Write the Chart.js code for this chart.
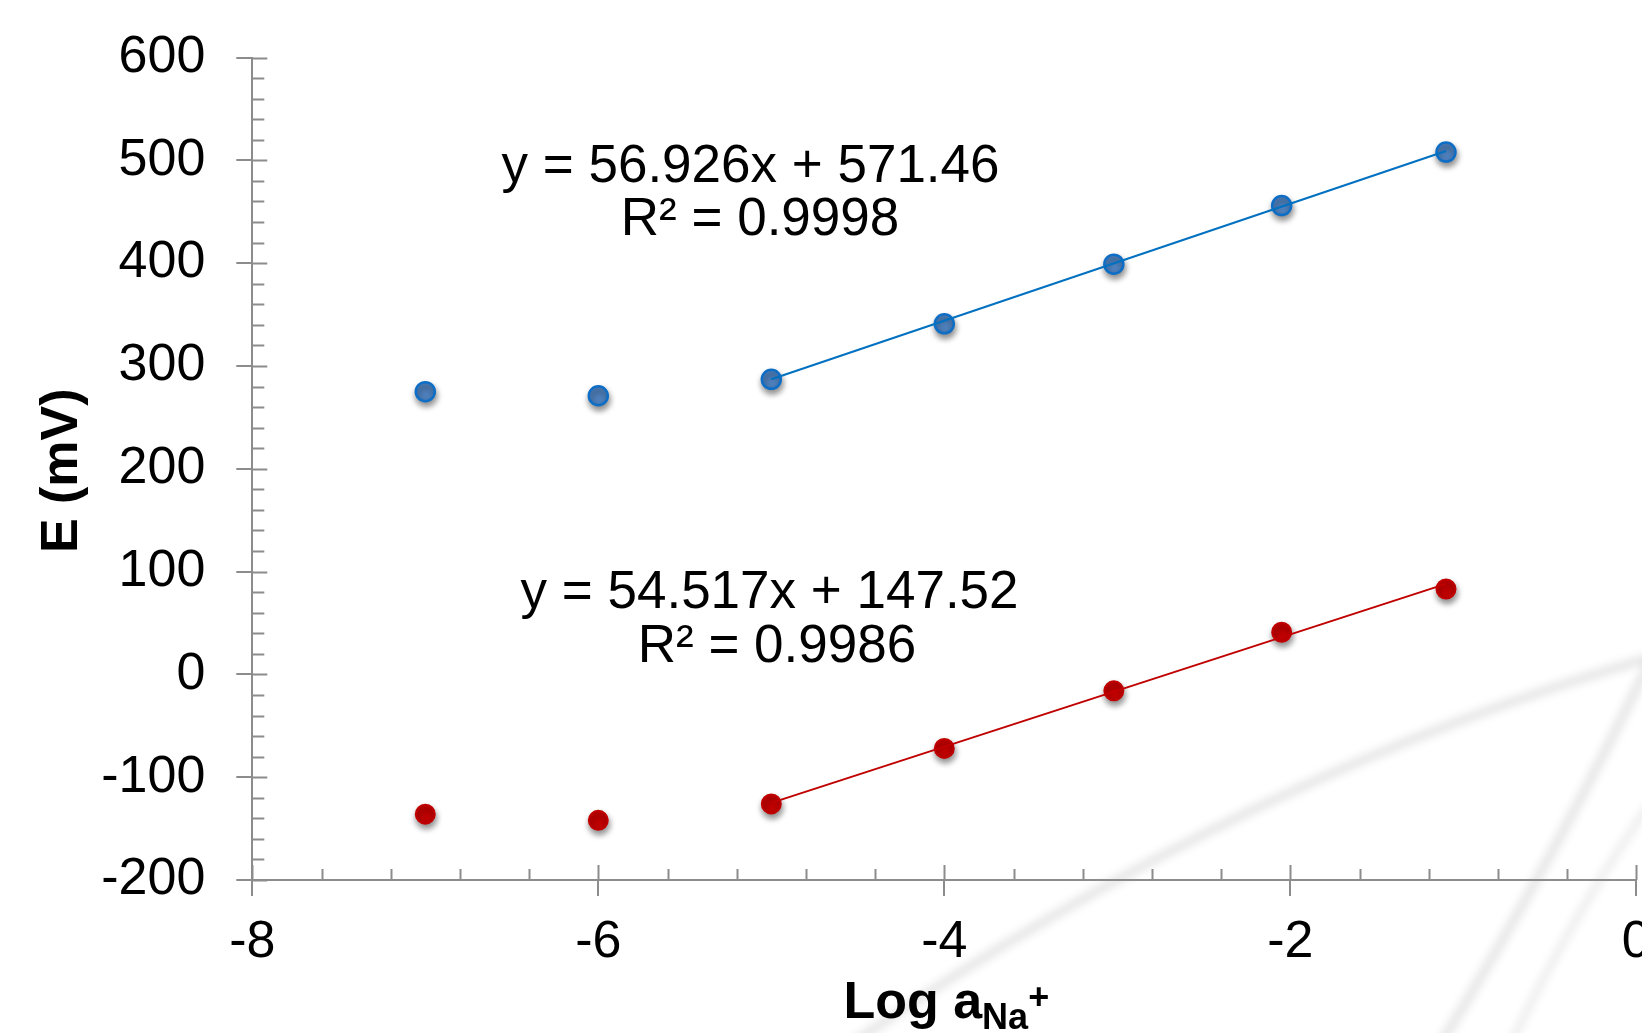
<!DOCTYPE html>
<html>
<head>
<meta charset="utf-8">
<script src="https://cdn.jsdelivr.net/npm/chart.js@4.4.1/dist/chart.umd.min.js"></script>
<style>
  html, body { margin: 0; padding: 0; background: #fff; overflow: hidden; }
  #wrap { width: 1700px; height: 1033px; }
</style>
</head>
<body>
<div id="wrap"><canvas id="grafico" width="1700" height="1033"></canvas></div>
<script>
// dados
const logA = [-7, -6, -5, -4, -3.02, -2.05, -1.1];
const eBlue = [275, 271, 287, 341, 399, 456, 508];
const eRed = [-136, -142, -126, -72, -16, 41, 83];
const trendX = [-5, -1.1];
const trendBlue = [287, 509];
const trendRed = [-125, 88];
const xTicks = [-8, -6, -4, -2, 0];
const yTicks = [-200, -100, 0, 100, 200, 300, 400, 500, 600];
const eqBlue = ['y = 56.926x + 571.46', 'R² = 0.9998'];
const eqRed = ['y = 54.517x + 147.52', 'R² = 0.9986'];

const fonte = "'Liberation Sans', Arial, sans-serif";
const cinza = '#8c8c8c';
Chart.defaults.font.family = fonte;

function pontos(xs, ys) {
  return xs.map((v, i) => ({ x: v, y: ys[i] }));
}

// sombra nos marcadores
const sombra = {
  id: 'sombra',
  beforeDatasetDraw(chart, args) {
    if (!chart.data.datasets[args.index].sombra) return;
    const ctx = chart.ctx;
    ctx.save();
    ctx.shadowColor = 'rgba(0, 0, 0, 0.45)';
    ctx.shadowBlur = 6;
    ctx.shadowOffsetX = 1;
    ctx.shadowOffsetY = 4;
  },
  afterDatasetDraw(chart, args) {
    if (!chart.data.datasets[args.index].sombra) return;
    chart.ctx.restore();
  }
};

// marca d'água, ticks menores, equações e títulos
const extras = {
  id: 'extras',
  beforeDraw(chart) {
    const ctx = chart.ctx;
    ctx.save();
    ctx.filter = 'blur(4px)';
    ctx.strokeStyle = 'rgba(0, 0, 0, 0.10)';
    ctx.lineWidth = 9;
    ctx.beginPath();
    ctx.moveTo(850, 1045);
    ctx.quadraticCurveTo(1250, 770, 1660, 655);
    ctx.stroke();
    ctx.beginPath();
    ctx.moveTo(1440, 1045);
    ctx.quadraticCurveTo(1560, 850, 1660, 640);
    ctx.stroke();
    ctx.lineWidth = 7;
    ctx.strokeStyle = 'rgba(0, 0, 0, 0.08)';
    ctx.beginPath();
    ctx.moveTo(1510, 1045);
    ctx.quadraticCurveTo(1580, 900, 1660, 790);
    ctx.stroke();
    ctx.restore();
  },
  afterDraw(chart) {
    const { ctx, chartArea, scales: { x, y } } = chart;
    ctx.save();
    ctx.strokeStyle = cinza;
    ctx.lineWidth = 2;
    ctx.beginPath();
    for (let i = 0; i <= 40; i++) {
      const py = Math.round(y.getPixelForValue(-200 + i * 20)) + 0.5;
      const len = i % 5 === 0 ? 15 : 12;
      ctx.moveTo(chartArea.left, py);
      ctx.lineTo(chartArea.left + len, py);
    }
    for (let i = 0; i <= 20; i++) {
      const px = Math.round(x.getPixelForValue(-8 + i * 0.4)) + 0.5;
      const len = i % 5 === 0 ? 15 : 11;
      ctx.moveTo(px, chartArea.bottom);
      ctx.lineTo(px, chartArea.bottom - len);
    }
    ctx.stroke();

    // equações das retas
    ctx.fillStyle = '#000';
    ctx.font = '53px ' + fonte;
    ctx.textAlign = 'center';
    ctx.textBaseline = 'alphabetic';
    ctx.fillText(eqBlue[0], x.getPixelForValue(-5.12), y.getPixelForValue(478.6));
    ctx.fillText(eqBlue[1], x.getPixelForValue(-5.065), y.getPixelForValue(427.3));
    ctx.fillText(eqRed[0], x.getPixelForValue(-5.01), y.getPixelForValue(64.2));
    ctx.fillText(eqRed[1], x.getPixelForValue(-4.967), y.getPixelForValue(11.7));

    // título do eixo y
    ctx.save();
    ctx.translate(63, (chartArea.top + chartArea.bottom) / 2 + 2);
    ctx.rotate(-Math.PI / 2);
    ctx.font = 'bold 52px ' + fonte;
    ctx.textAlign = 'center';
    ctx.textBaseline = 'middle';
    ctx.fillText('E (mV)', 0, 0);
    ctx.restore();

    // título do eixo x: Log a(Na)+
    const base = chartArea.bottom + 138;
    const fMain = 'bold 52px ' + fonte;
    const fSmall = 'bold 36px ' + fonte;
    ctx.font = fMain;
    const w1 = ctx.measureText('Log a').width;
    ctx.font = fSmall;
    const w2 = ctx.measureText('Na').width;
    const w3 = ctx.measureText('+').width;
    let px = (chartArea.left + chartArea.right) / 2 + 2 - (w1 + w2 + w3) / 2;
    ctx.textAlign = 'left';
    ctx.textBaseline = 'alphabetic';
    ctx.font = fMain;
    ctx.fillText('Log a', px, base);
    px += w1;
    ctx.font = fSmall;
    ctx.fillText('Na', px, base + 11);
    px += w2;
    ctx.fillText('+', px, base - 9);
    ctx.restore();
  }
};

const eixo = {
  grid: { drawOnChartArea: false, drawTicks: true, tickLength: 16, color: cinza, lineWidth: 2 },
  border: { display: true, color: cinza, width: 2 }
};

const ctx = document.getElementById('grafico').getContext('2d');
new Chart(ctx, {
  type: 'scatter',
  data: {
    datasets: [
      {
        label: 'Ajuste A',
        data: pontos(trendX, trendBlue),
        showLine: true,
        borderColor: '#0070C0',
        borderWidth: 2,
        pointRadius: 0,
        order: 0
      },
      {
        label: 'Ajuste B',
        data: pontos(trendX, trendRed),
        showLine: true,
        borderColor: '#C00000',
        borderWidth: 2,
        pointRadius: 0,
        order: 0
      },
      {
        label: 'Eletrodo A',
        data: pontos(logA, eBlue),
        pointRadius: 9.5,
        pointBackgroundColor: '#4F81BD',
        pointBorderColor: '#0E6EC6',
        pointBorderWidth: 2.5,
        order: 1,
        sombra: true
      },
      {
        label: 'Eletrodo B',
        data: pontos(logA, eRed),
        pointRadius: 9.5,
        pointBackgroundColor: '#C00000',
        pointBorderColor: '#C00000',
        pointBorderWidth: 2,
        order: 1,
        sombra: true
      }
    ]
  },
  options: {
    responsive: false,
    animation: false,
    devicePixelRatio: 1,
    events: [],
    layout: { padding: { top: 57.5, right: 63.7, bottom: 0, left: 0 } },
    plugins: { legend: { display: false }, tooltip: { enabled: false } },
    scales: {
      x: {
        type: 'linear',
        min: -8,
        max: 0,
        afterBuildTicks: s => { s.ticks = xTicks.map(v => ({ value: v })); },
        afterFit: s => { s.height = 153; },
        ticks: { color: '#000', font: { size: 52 }, padding: 15, maxRotation: 0 },
        ...eixo
      },
      y: {
        type: 'linear',
        min: -200,
        max: 600,
        afterBuildTicks: s => { s.ticks = yTicks.map(v => ({ value: v })); },
        afterFit: s => {
          s.width = 252.3;
          s.paddingTop = 0;
          s.paddingBottom = 0;
        },
        ticks: { color: '#000', font: { size: 52 }, padding: 31 },
        ...eixo
      }
    }
  },
  plugins: [sombra, extras]
});
</script>
</body>
</html>
